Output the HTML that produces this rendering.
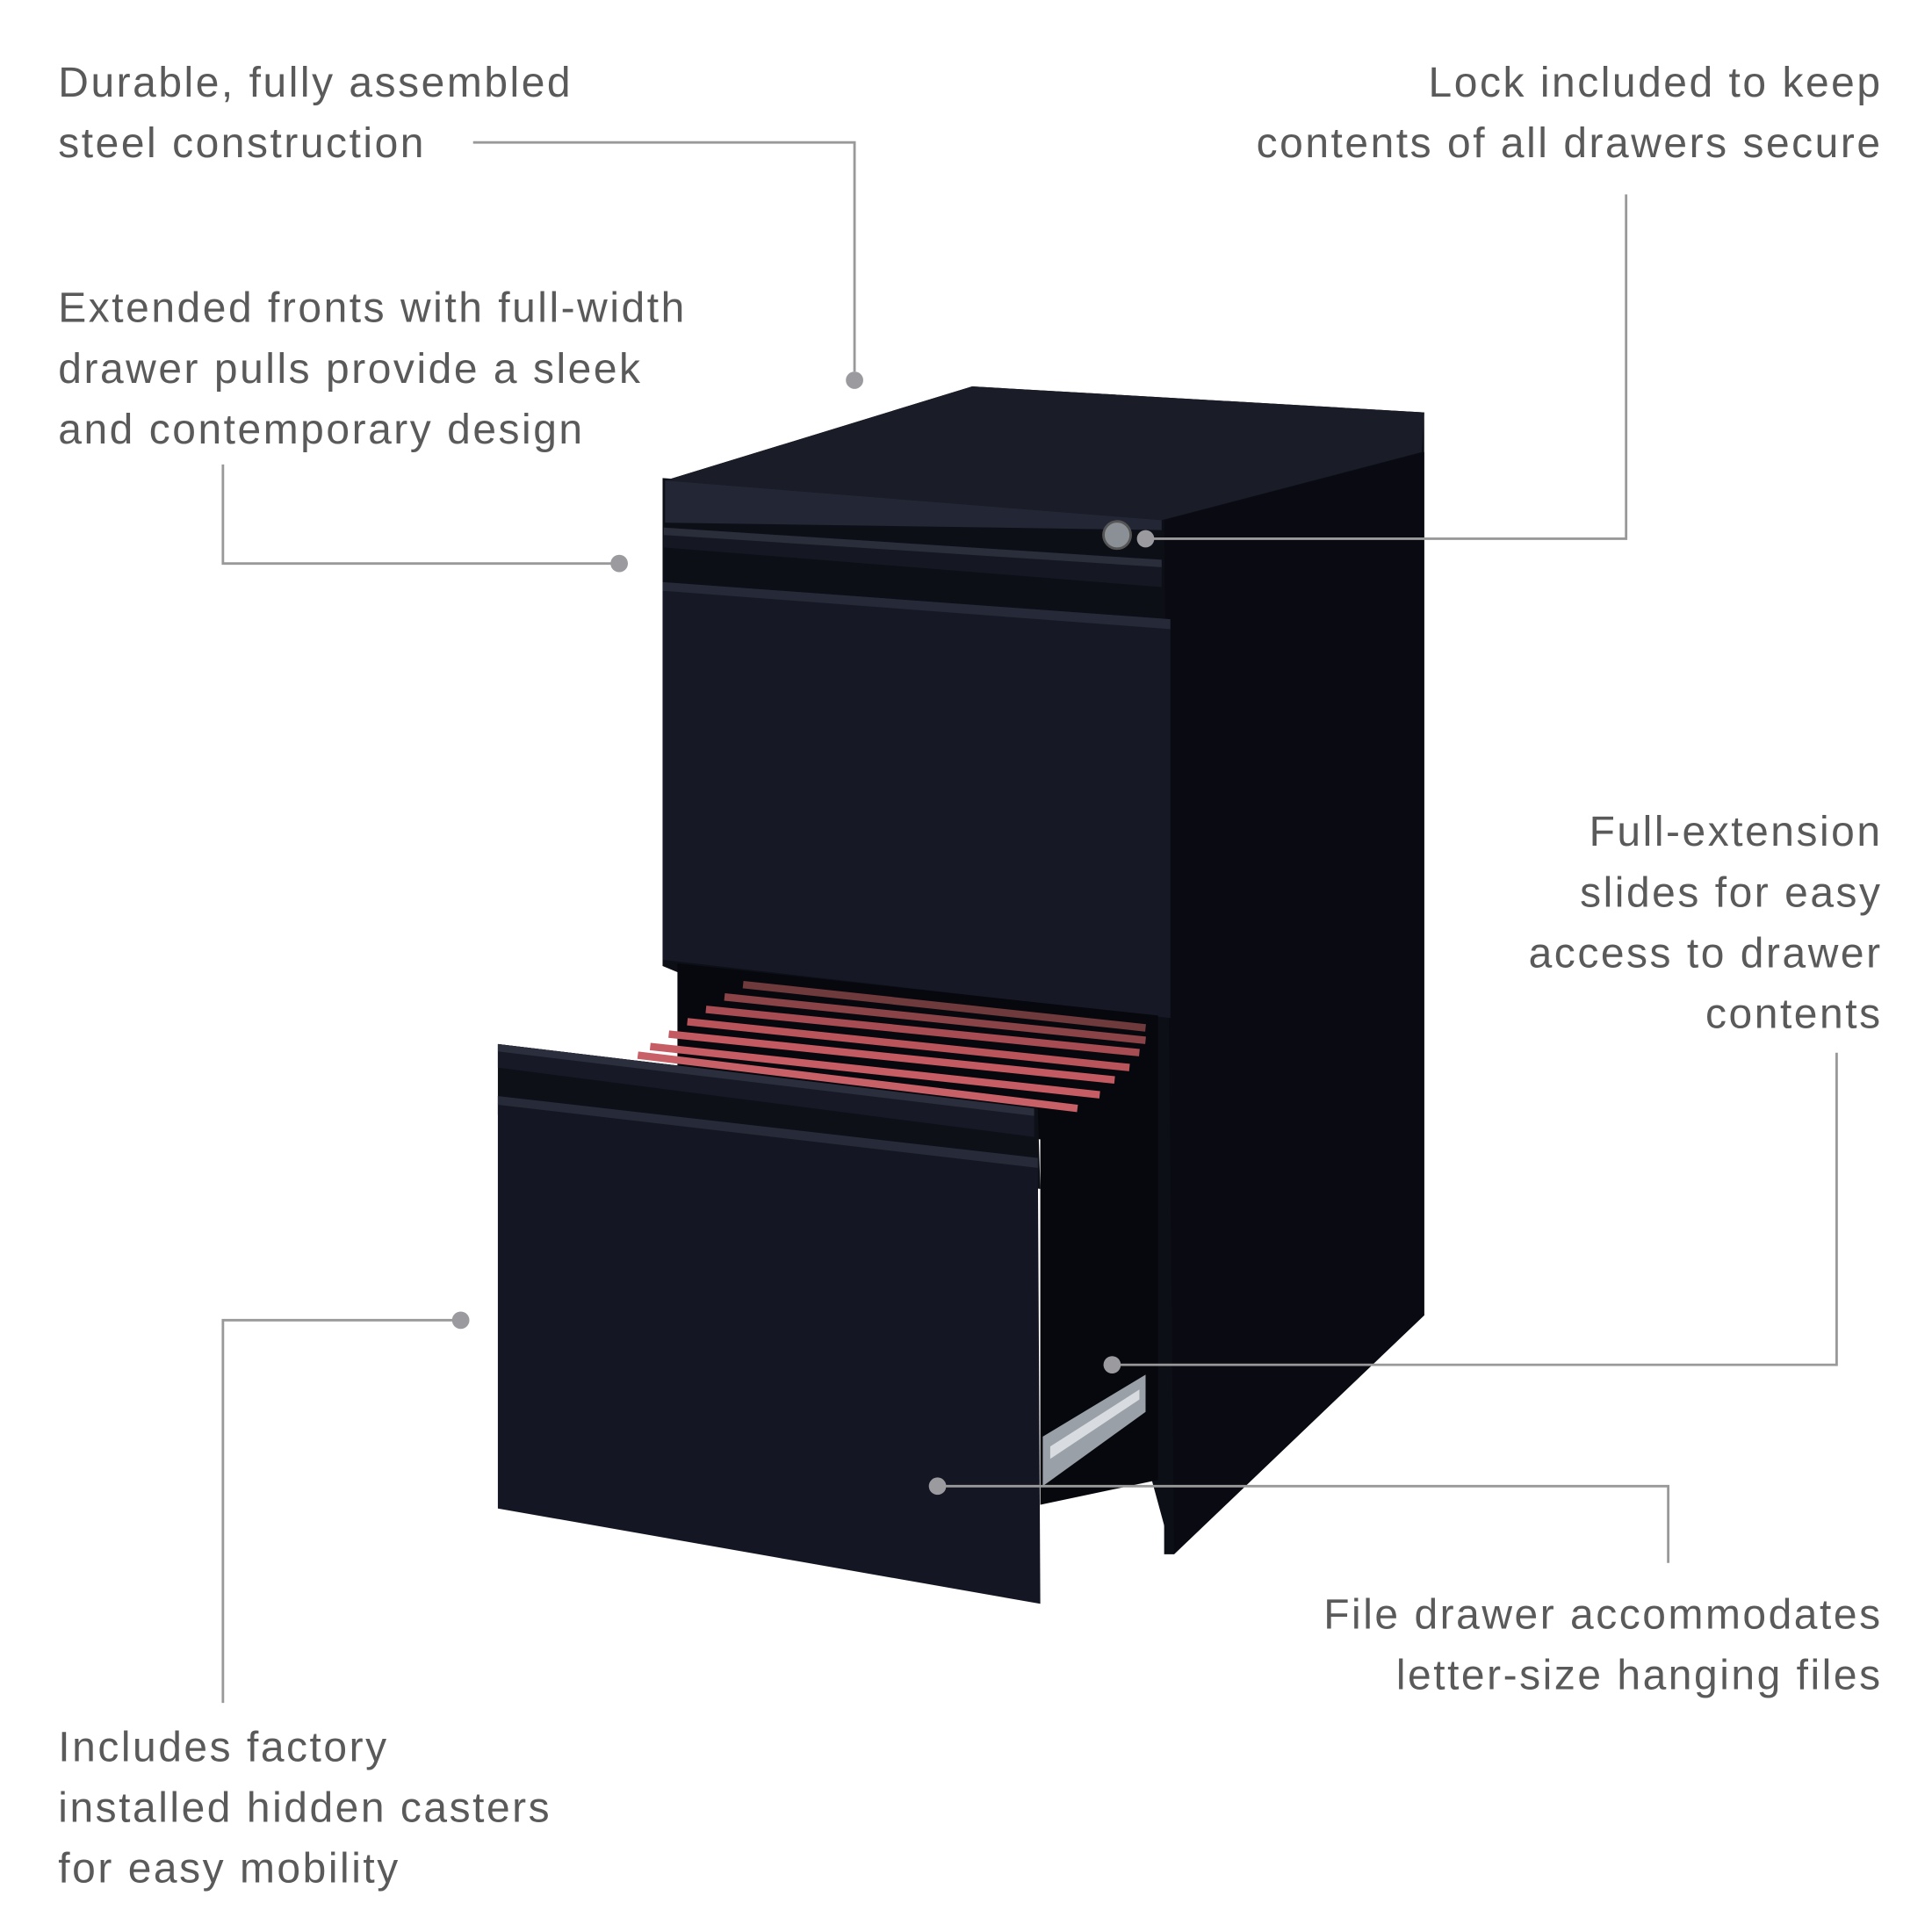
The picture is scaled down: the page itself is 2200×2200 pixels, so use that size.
<!DOCTYPE html>
<html><head><meta charset="utf-8"><style>
html,body{margin:0;padding:0;background:#fff;}
svg{display:block;}
text{font-family:"Liberation Sans",sans-serif;font-size:34px;fill:#5a5a5a;letter-spacing:1.8px;}
</style></head><body>
<svg width="2200" height="2200" viewBox="0 0 1560 1560" xmlns="http://www.w3.org/2000/svg">
<!-- cabinet body -->
<polygon points="537,388 785,312 1150,333 1150,1062 948,1255 940,1255 940,420" fill="#0d0f17"/>
<polygon points="535,386 945,418 945,1250 930,1195 930,830 547,785 535,780" fill="#0d0f17"/>
<polygon points="940,420 1150,365 1150,1062 948,1255" fill="#0a0b12"/>
<!-- top surface -->
<polygon points="537,388 785,312 1150,333 1148,365 938,420" fill="#1a1d28"/>
<polygon points="537,388 938,420 938,428 537,422" fill="#232634"/>
<!-- top rail -->
<polygon points="536,426 938,452 938,474 536,442" fill="#151823"/>
<polygon points="536,426 938,452 938,458 536,432" fill="#2a2d3a"/>
<!-- top drawer front -->
<polygon points="535,470 945,500 945,822 535,775" fill="#161925"/>
<polygon points="535,470 945,500 945,508 535,477" fill="#262a38"/>
<!-- cavity / open drawer interior -->
<polygon points="547,778 935,820 935,1195 840,1215 840,920 547,900" fill="#07080d"/>
<!-- files -->
<g stroke-width="6">
<line x1="600" y1="795" x2="925" y2="830" stroke="#6e3a3c"/>
<line x1="585" y1="805" x2="925" y2="840" stroke="#8a4448"/>
<line x1="570" y1="815" x2="920" y2="850" stroke="#a64c52"/>
<line x1="555" y1="825" x2="912" y2="862" stroke="#b9545b"/>
<line x1="540" y1="835" x2="900" y2="872" stroke="#c35a61"/>
<line x1="525" y1="845" x2="888" y2="884" stroke="#c65d64"/>
<line x1="515" y1="852" x2="870" y2="895" stroke="#c86067"/>
</g>
<!-- open drawer front -->
<polygon points="402,843 838,895 840,960 402,900" fill="#0e1018"/>
<polygon points="402,843 835,895 835,918 402,862" fill="#171a26"/>
<polygon points="402,843 835,895 835,901 402,849" fill="#2b2f3d"/>
<polygon points="402,885 838,935 840,1295 402,1218" fill="#141723"/>
<polygon points="402,885 838,935 838,943 402,892" fill="#272b39"/>
<!-- slide -->
<polygon points="842,1160 925,1110 925,1140 842,1200" fill="#9aa0a8"/>
<polygon points="848,1168 920,1122 920,1130 848,1178" fill="#d8dce0"/>
<!-- lock -->
<circle cx="902" cy="432" r="11" fill="#8b8f96" stroke="#555" stroke-width="2"/>
<!-- leader lines -->
<g stroke="#999" stroke-width="2" fill="none">
<polyline points="382,115 690,115 690,300"/>
<polyline points="180,375 180,455 500,455"/>
<polyline points="1313,157 1313,435 925,435"/>
<polyline points="1483,850 1483,1102 898,1102"/>
<polyline points="1347,1262 1347,1200 757,1200"/>
<polyline points="180,1375 180,1066 372,1066"/>
</g>
<g fill="#9a9a9f">
<circle cx="690" cy="307" r="7"/><circle cx="500" cy="455" r="7"/>
<circle cx="925" cy="435" r="7"/><circle cx="898" cy="1102" r="7"/>
<circle cx="757" cy="1200" r="7"/><circle cx="372" cy="1066" r="7"/>
</g>
<!-- labels -->
<text x="47" y="78">Durable, fully assembled</text>
<text x="47" y="127">steel construction</text>
<text x="47" y="260">Extended fronts with full-width</text>
<text x="47" y="309">drawer pulls provide a sleek</text>
<text x="47" y="358">and contemporary design</text>
<g text-anchor="end">
<text x="1520" y="78">Lock included to keep</text>
<text x="1520" y="127">contents of all drawers secure</text>
<text x="1520" y="683">Full-extension</text>
<text x="1520" y="732">slides for easy</text>
<text x="1520" y="781">access to drawer</text>
<text x="1520" y="830">contents</text>
<text x="1520" y="1315">File drawer accommodates</text>
<text x="1520" y="1364">letter-size hanging files</text>
</g>
<text x="47" y="1422">Includes factory</text>
<text x="47" y="1471">installed hidden casters</text>
<text x="47" y="1520">for easy mobility</text>
</svg>
</body></html>
